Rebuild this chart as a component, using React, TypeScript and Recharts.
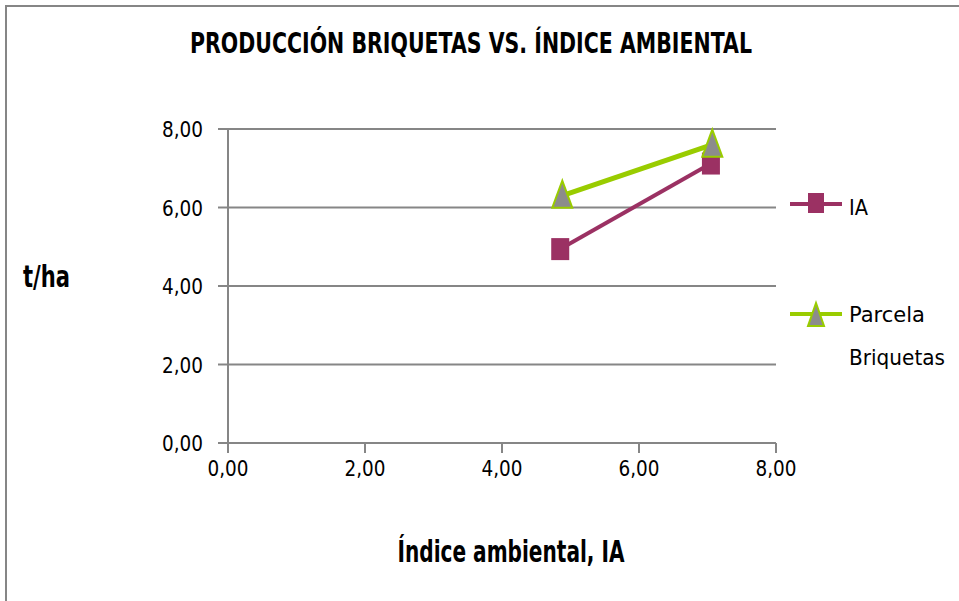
import React from "react";
import {
  ScatterChart,
  Scatter,
  XAxis,
  YAxis,
  CartesianGrid,
  Label,
} from "recharts";

const TITLE = "PRODUCCIÓN BRIQUETAS VS. ÍNDICE AMBIENTAL";
const X_TITLE = "Índice ambiental, IA";
const Y_TITLE = "t/ha";
const SERIES = ["IA", "Parcela Briquetas"];

const iaX = [4.85, 7.05];
const iaY = [4.94, 7.12];
const parcelaX = [4.88, 7.07];
const parcelaY = [6.3, 7.6];

const TICKS = [0, 2, 4, 6, 8];

const PURPLE = "#9b3163";
const GREEN = "#99cc00";
const GREY = "#868686";
const FONT = "'DejaVu Sans', sans-serif";

const iaData = iaX.map((x, i) => ({ x, y: iaY[i] }));
const parcelaData = parcelaX.map((x, i) => ({ x, y: parcelaY[i] }));

const fmt = (v: number) => v.toFixed(2).replace(".", ",");

// narrow text, squeezed to the width measured on the picture
const Narrow = ({ x, y, w, size, bold, anchor = "start", children }: any) => (
  <text
    x={x}
    y={y}
    fontSize={size}
    fontFamily={FONT}
    fontWeight={bold ? "bold" : "normal"}
    fill="#000"
    textAnchor={anchor}
    textLength={w}
    lengthAdjust="spacingAndGlyphs"
  >
    {children}
  </text>
);

const XTick = (props: any) => (
  <Narrow x={props.x} y={props.y + 15} w={41} size={21} anchor="middle">
    {fmt(props.payload.value)}
  </Narrow>
);

const YTick = (props: any) => (
  <Narrow x={props.x} y={props.y + 8} w={41} size={21} anchor="end">
    {fmt(props.payload.value)}
  </Narrow>
);

const Square = (props: any) => {
  const { cx, cy } = props;
  return <rect x={cx - 9} y={cy - 11} width={18} height={22} fill={PURPLE} />;
};

const Triangle = (props: any) => {
  const { cx, cy } = props;
  return (
    <polygon
      points={`${cx},${cy - 15} ${cx - 10},${cy + 12} ${cx + 10},${cy + 12}`}
      fill="#8c8c8c"
      stroke={GREEN}
      strokeWidth={2}
    />
  );
};

const Overlay = () => (
  <svg
    width={959}
    height={601}
    style={{ position: "absolute", left: 0, top: 0, pointerEvents: "none" }}
  >
    <Narrow x={471} y={53} w={562} size={29} bold anchor="middle">
      {TITLE}
    </Narrow>
    {/* legend */}
    <line x1={790} y1={204} x2={842} y2={204} stroke={PURPLE} strokeWidth={4} />
    <rect x={808} y={193} width={16} height={20} fill={PURPLE} />
    <Narrow x={849} y={215} w={19} size={21}>
      {SERIES[0]}
    </Narrow>
    <line x1={790} y1={314} x2={842} y2={314} stroke={GREEN} strokeWidth={4} />
    <polygon points="816,303 808,326 824,326" fill="#8c8c8c" stroke={GREEN} strokeWidth={2} />
    <Narrow x={849} y={322} w={76} size={21}>
      Parcela
    </Narrow>
    <Narrow x={849} y={365} w={96} size={21}>
      Briquetas
    </Narrow>
  </svg>
);

export default function App() {
  return (
    <div
      style={{
        position: "absolute",
        left: 0,
        top: 0,
        width: 959,
        height: 601,
        background: "#fff",
        overflow: "hidden",
        fontFamily: FONT,
      }}
    >
      <div
        style={{
          position: "absolute",
          left: 5,
          top: 5,
          width: 960,
          height: 610,
          border: `2px solid ${GREY}`,
          boxSizing: "border-box",
        }}
      />
      <ScatterChart
        width={959}
        height={601}
        margin={{ top: 129, right: 183, bottom: 0, left: 0 }}
        style={{ position: "absolute", left: 0, top: 0 }}
      >
        <CartesianGrid
          horizontal
          vertical={false}
          horizontalValues={TICKS}
          stroke={GREY}
          strokeWidth={2}
        />
        <XAxis
          type="number"
          dataKey="x"
          domain={[0, 8]}
          ticks={TICKS}
          interval={0}
          stroke={GREY}
          strokeWidth={2}
          tickSize={10}
          tickMargin={8}
          height={158}
          tick={<XTick />}
        >
          <Label
            content={() => (
              <Narrow x={511} y={562} w={227} size={31} bold anchor="middle">
                {X_TITLE}
              </Narrow>
            )}
          />
        </XAxis>
        <YAxis
          type="number"
          dataKey="y"
          domain={[0, 8]}
          ticks={TICKS}
          interval={0}
          stroke={GREY}
          strokeWidth={2}
          tickSize={10}
          tickMargin={15}
          width={228}
          tick={<YTick />}
        >
          <Label
            content={() => (
              <Narrow x={23} y={287} w={47} size={30} bold>
                {Y_TITLE}
              </Narrow>
            )}
          />
        </YAxis>
        <Scatter
          name={SERIES[0]}
          data={iaData}
          line={{ stroke: PURPLE, strokeWidth: 4 }}
          lineType="joint"
          shape={<Square />}
          fill={PURPLE}
          isAnimationActive={false}
        />
        <Scatter
          name={SERIES[1]}
          data={parcelaData}
          line={{ stroke: GREEN, strokeWidth: 5 }}
          lineType="joint"
          shape={<Triangle />}
          fill={GREEN}
          isAnimationActive={false}
        />
      </ScatterChart>
      <Overlay />
    </div>
  );
}
